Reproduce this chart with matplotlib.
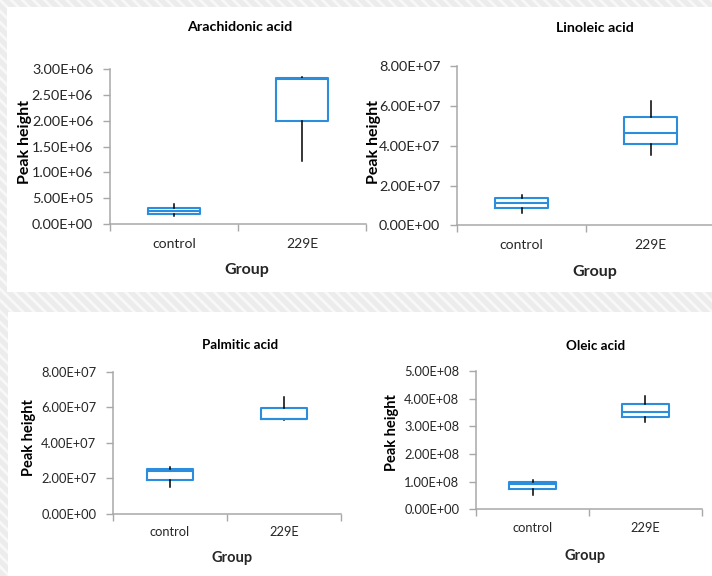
import matplotlib
matplotlib.use('Agg')
import matplotlib.pyplot as plt
from matplotlib.patches import Rectangle
from matplotlib.ticker import FuncFormatter, FixedLocator

plt.rcParams['font.family'] = ['Lato', 'DejaVu Sans']
plt.rcParams['hatch.linewidth'] = 2.0

groups = ['control', '229E']
titles = ['Arachidonic acid', 'Linoleic acid', 'Palmitic acid', 'Oleic acid']

# box statistics per panel, values for [control, 229E]
arach_min = [0.155e6, 1.22e6]
arach_q1 = [0.19e6, 2.00e6]
arach_med = [0.25e6, 2.80e6]
arach_q3 = [0.315e6, 2.83e6]
arach_max = [0.39e6, 2.84e6]

linol_min = [0.63e7, 3.54e7]
linol_q1 = [0.885e7, 4.11e7]
linol_med = [1.12e7, 4.66e7]
linol_q3 = [1.36e7, 5.46e7]
linol_max = [1.52e7, 6.25e7]

palm_min = [1.53e7, 5.31e7]
palm_q1 = [1.93e7, 5.32e7]
palm_med = [2.40e7, 5.33e7]
palm_q3 = [2.51e7, 5.94e7]
palm_max = [2.66e7, 6.56e7]

oleic_min = [0.50e8, 3.14e8]
oleic_q1 = [0.745e8, 3.32e8]
oleic_med = [0.914e8, 3.51e8]
oleic_q3 = [0.976e8, 3.79e8]
oleic_max = [1.05e8, 4.09e8]

arach_ticks = [0, 0.5e6, 1.0e6, 1.5e6, 2.0e6, 2.5e6, 3.0e6]
linol_ticks = [0, 2e7, 4e7, 6e7, 8e7]
palm_ticks = [0, 2e7, 4e7, 6e7, 8e7]
oleic_ticks = [0, 1e8, 2e8, 3e8, 4e8, 5e8]

panels = [
    (arach_min, arach_q1, arach_med, arach_q3, arach_max, arach_ticks),
    (linol_min, linol_q1, linol_med, linol_q3, linol_max, linol_ticks),
    (palm_min, palm_q1, palm_med, palm_q3, palm_max, palm_ticks),
    (oleic_min, oleic_q1, oleic_med, oleic_q3, oleic_max, oleic_ticks),
]

W, H = 712, 576
fig = plt.figure(figsize=(W / 100, H / 100), dpi=100)
fig.patch.set_facecolor('#ececec')

def px_rect(x0, y0, x1, y1):
    return [x0 / W, 1 - y1 / H, (x1 - x0) / W, (y1 - y0) / H]

# hatched background
bg = Rectangle((0, 0), 1, 1, transform=fig.transFigure, facecolor='none',
               edgecolor='#f8f8f8', hatch='\\\\\\', lw=0, zorder=-10)
fig.add_artist(bg)
for (x0, y0, x1, y1) in [(7, 7, 712, 292), (8, 312, 712, 576)]:
    r = px_rect(x0, y0, x1, y1)
    fig.add_artist(Rectangle((r[0], r[1]), r[2], r[3], transform=fig.transFigure,
                             facecolor='white', edgecolor='none', zorder=-5))

# axes placement in pixels: x0, ytop, x1, ybottom
axes_px = [(110, 69, 366, 224), (457, 66.3, 715, 225.3),
           (113, 371.7, 341, 514), (476, 371, 702, 509.3)]
title_px = [(240, 27), (595, 28), (240, 345), (596, 346)]
ylabel_px = [(25, 142), (374, 142), (29, 438), (392, 433)]
xlabel_px = [(247, 270), (595, 272), (232, 558), (585, 556)]
tick_fs = [10.4, 10.4, 9.3, 9.3]
cat_fs = [10, 10, 9.3, 9.3]
ylab_fs = [11.5, 11.5, 10.5, 10.5]
xlab_fs = [11.5, 11.5, 10.5, 10.5]
title_fs = [10.3, 10.2, 9.6, 9.6]
cat_pad = [10, 10, 9, 9]

blue = '#2b8ddb'
axis_gray = '#a8a8a8'
text_col = '#262626'

fmt = FuncFormatter(lambda v, p: '{:.2E}'.format(v))

for i, (mn, q1, med, q3, mx, ticks) in enumerate(panels):
    x0, yt, x1, yb = axes_px[i]
    ax = fig.add_axes(px_rect(x0, yt, x1, yb))
    ax.set_facecolor('none')
    stats = []
    for j, g in enumerate(groups):
        stats.append(dict(label=g, whislo=mn[j], q1=q1[j], med=med[j],
                          q3=q3[j], whishi=mx[j], fliers=[]))
    ax.bxp(stats, positions=[1, 2], widths=0.41, showcaps=False,
           showfliers=False,
           boxprops=dict(color=blue, lw=1.5),
           medianprops=dict(color=blue, lw=1.5),
           whiskerprops=dict(color='black', lw=1.1))
    ax.set_xlim(0.5, 2.5)
    ax.set_ylim(ticks[0], ticks[-1])
    ax.yaxis.set_major_locator(FixedLocator(ticks))
    ax.yaxis.set_major_formatter(fmt)
    ax.xaxis.set_major_locator(FixedLocator([0.5, 1.5, 2.5]))
    ax.xaxis.set_minor_locator(FixedLocator([1, 2]))
    ax.set_xticklabels([], minor=False)
    ax.set_xticklabels(groups, minor=True)
    ax.tick_params(axis='x', which='minor', length=0, pad=cat_pad[i],
                   labelsize=cat_fs[i], labelcolor=text_col)
    ax.tick_params(axis='x', which='major', length=5, color=axis_gray, width=1)
    ax.tick_params(axis='y', length=5, color=axis_gray, width=1, pad=7,
                   labelsize=tick_fs[i], labelcolor=text_col)
    for s in ['top', 'right']:
        ax.spines[s].set_visible(False)
    for s in ['left', 'bottom']:
        ax.spines[s].set_color(axis_gray)
        ax.spines[s].set_linewidth(1.1)

    tx, ty = title_px[i]
    fig.text(tx / W, 1 - ty / H, titles[i], ha='center', va='center',
             fontsize=title_fs[i], fontweight='bold', color='black')
    lx, ly = ylabel_px[i]
    fig.text(lx / W, 1 - ly / H, 'Peak height', ha='center', va='center',
             rotation=90, fontsize=ylab_fs[i], fontweight='bold', color='black')
    gx, gy = xlabel_px[i]
    fig.text(gx / W, 1 - gy / H, 'Group', ha='center', va='center',
             fontsize=xlab_fs[i], fontweight='bold', color=text_col)

fig.savefig('out.png', dpi=100, facecolor=fig.get_facecolor())
